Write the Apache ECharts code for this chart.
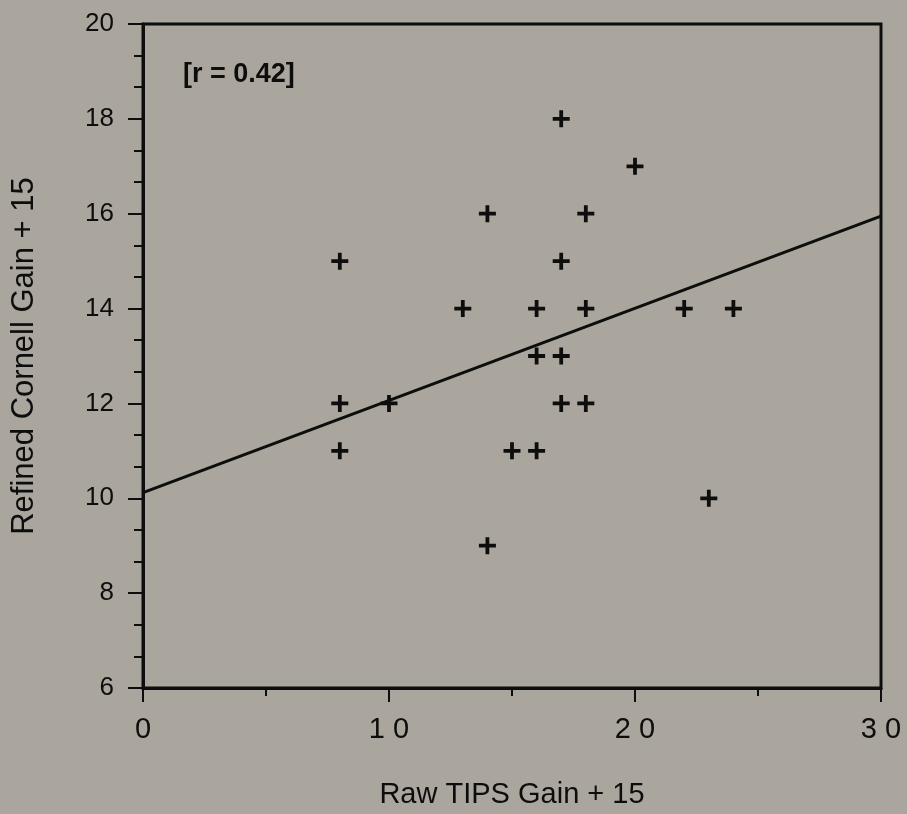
<!DOCTYPE html>
<html>
<head>
<meta charset="utf-8">
<script src="https://cdn.jsdelivr.net/npm/echarts@6/dist/echarts.min.js"></script>
<style>
  html, body { margin: 0; padding: 0; background: #aaa69d; }
  #chart { width: 907px; height: 814px; }
</style>
</head>
<body>
<div id="chart"></div>
<script>
// Raw TIPS gain (+15) vs refined Cornell gain (+15), one entry per student
const tipsGain = [8, 8, 8, 10, 13, 14, 14, 15, 16, 16, 16, 17, 17, 17, 17, 18, 18, 18, 20, 22, 24, 23];
const cornellGain = [15, 12, 11, 12, 14, 16, 9, 11, 14, 13, 11, 18, 15, 13, 12, 16, 14, 12, 17, 14, 14, 10];

// fitted regression line, read at the two ends of the x axis
const fitX = [0, 30];
const fitY = [10.12, 15.95];

const xTicks = [0, 10, 20, 30];
const yTicks = [6, 8, 10, 12, 14, 16, 18, 20];
const rLabel = '[r = 0.42]';

const ink = '#0d0d0d';
const font = '"Liberation Sans", Arial, Helvetica, sans-serif';
const plus = 'path://M7,0h4v7h7v4h-7v7h-4v-7h-7v-4h7z';

const chart = echarts.init(document.getElementById('chart'), null, { renderer: 'canvas' });

chart.setOption({
  backgroundColor: '#aaa69d',
  animation: false,
  textStyle: { fontFamily: font, color: ink },
  grid: {
    left: 143, right: 26, top: 24, bottom: 118,
    show: true, borderColor: ink, borderWidth: 3, backgroundColor: 'transparent',
  },
  xAxis: {
    type: 'value',
    min: xTicks[0],
    max: xTicks[xTicks.length - 1],
    interval: xTicks[1] - xTicks[0],
    name: 'Raw TIPS Gain + 15',
    nameLocation: 'middle',
    nameGap: 92,
    nameTextStyle: { fontSize: 29, color: ink, fontFamily: font },
    axisLine: { lineStyle: { color: ink, width: 3 } },
    axisTick: { length: 14, lineStyle: { color: ink, width: 2 } },
    minorTick: { show: true, splitNumber: 2, length: 8, lineStyle: { color: ink, width: 2 } },
    splitLine: { show: false },
    axisLabel: {
      margin: 27, fontSize: 29, color: ink, fontFamily: font,
      formatter: (v) => String(v).split('').join(' '),
    },
  },
  yAxis: {
    type: 'value',
    min: yTicks[0],
    max: yTicks[yTicks.length - 1],
    interval: yTicks[1] - yTicks[0],
    name: 'Refined Cornell Gain + 15',
    nameLocation: 'middle',
    nameGap: 103,
    nameTextStyle: { fontSize: 31, color: ink, fontFamily: font },
    axisLine: { lineStyle: { color: ink, width: 3 } },
    axisTick: { length: 15, lineStyle: { color: ink, width: 2 } },
    minorTick: { show: true, splitNumber: 3, length: 9, lineStyle: { color: ink, width: 2 } },
    splitLine: { show: false },
    axisLabel: { margin: 29, fontSize: 26, color: ink, fontFamily: font },
  },
  graphic: [
    {
      type: 'text',
      left: 183,
      top: 61,
      style: { text: rLabel, fontSize: 27, fontWeight: 'bold', fill: ink, fontFamily: font },
    },
  ],
  series: [
    {
      type: 'line',
      data: fitX.map((x, i) => [x, fitY[i]]),
      symbol: 'none',
      lineStyle: { color: ink, width: 3 },
      silent: true,
    },
    {
      type: 'scatter',
      data: tipsGain.map((x, i) => [x, cornellGain[i]]),
      symbol: plus,
      symbolSize: 17,
      itemStyle: { color: ink, opacity: 1 },
    },
  ],
});
</script>
</body>
</html>
